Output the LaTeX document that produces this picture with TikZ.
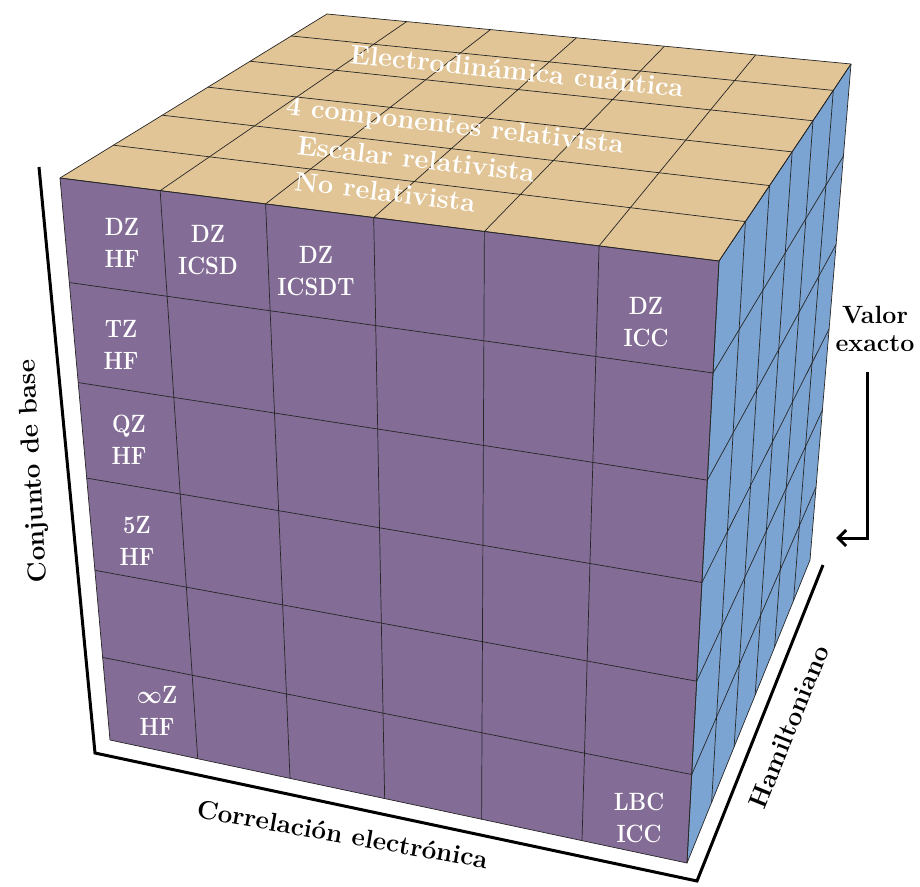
\documentclass[tikz,border=0pt]{standalone}
\usepackage{graphicx}
\usetikzlibrary{calc,arrows.meta}
\definecolor{purp}{RGB}{131,108,150}
\definecolor{tanc}{RGB}{226,197,150}
\definecolor{blu}{RGB}{123,164,210}
\newcommand{\cellpair}[2]{\scalebox{0.88}[1]{\bfseries #1}\\\scalebox{0.88}[1]{\bfseries #2}}
\tikzset{
  gridline/.style={draw=black!85, line width=0.7pt},
  axisline/.style={draw=black, line width=3pt, line join=miter},
  celltxt/.style={text=white, align=center, inner sep=0pt, font=\fontsize{25}{32}\selectfont\bfseries},
  toptxt/.style={text=white, anchor=base, inner sep=0pt, font=\fontsize{27}{30}\selectfont\bfseries},
  axtxt/.style={text=black, inner sep=0pt, font=\fontsize{26}{30}\selectfont\bfseries},
}
\begin{document}
\begin{tikzpicture}[x=1pt,y=-1pt]
\useasboundingbox (0,0) rectangle (920,886);
% cube vertices
\coordinate (FTL) at (60,178);
\coordinate (FTR) at (719,261);
\coordinate (FBR) at (687,863);
\coordinate (FBL) at (110,740);
\coordinate (BTL) at (327,14);
\coordinate (BTR) at (851,64);
\coordinate (BBR) at (810,560);
% faces
\fill[tanc] (FTL)--(FTR)--(BTR)--(BTL)--cycle;
\fill[purp] (FTL)--(FTR)--(FBR)--(FBL)--cycle;
\fill[blu] (FTR)--(BTR)--(BBR)--(FBR)--cycle;
% grids
\foreach \f in {0,0.152,0.312,0.476,0.644,0.818,1}{
  \draw[gridline] ($(FTL)!\f!(FTR)$) -- ($(FBL)!\f!(FBR)$);
  \draw[gridline] ($(FTL)!\f!(FTR)$) -- ($(BTL)!\f!(BTR)$);
}
\foreach \f in {0,0.186,0.364,0.534,0.698,0.853,1}{
  \draw[gridline] ($(FTL)!\f!(FBL)$) -- ($(FTR)!\f!(FBR)$);
  \draw[gridline] ($(FTR)!\f!(FBR)$) -- ($(BTR)!\f!(BBR)$);
}
\foreach \f in {0,0.2,0.383,0.554,0.712,0.866,1}{
  \draw[gridline] ($(FTL)!\f!(BTL)$) -- ($(FTR)!\f!(BTR)$);
  \draw[gridline] ($(FTR)!\f!(BTR)$) -- ($(FBR)!\f!(BBR)$);
}
% top face texts
\node[toptxt, rotate=-5.8] (t1) at (516,80) {Electrodinámica cuántica};
\node[toptxt, rotate=-6.6] (t2) at (454,134) {4 componentes relativista};
\node[toptxt, rotate=-6.7] (t3) at (415,168) {Escalar relativista};
\node[toptxt, rotate=-6.9] (t4) at (384,201) {No relativista};
% front cell texts
\node[celltxt] (c1) at (122,243) {\cellpair{DZ}{HF}};
\node[celltxt] (c2) at (208,250) {\cellpair{DZ}{ICSD}};
\node[celltxt] (c3) at (316,271) {\cellpair{DZ}{ICSDT}};
\node[celltxt] (c4) at (646,322) {\cellpair{DZ}{ICC}};
\node[celltxt] (c5) at (121,345) {\cellpair{TZ}{HF}};
\node[celltxt] (c6) at (129,440) {\cellpair{QZ}{HF}};
\node[celltxt] (c7) at (137,541) {\cellpair{5Z}{HF}};
\node[celltxt] (c8) at (157,711) {\cellpair{{\boldmath$\infty$}Z}{HF}};
\node[celltxt] (c9) at (639,818) {\cellpair{LBC}{ICC}};
% axes
\coordinate (A1) at (39,167);
\coordinate (A2) at (95,753);
\coordinate (A3) at (697,881);
\coordinate (A4) at (823,565);
\draw[axisline] (A1)--(A2)--(A3)--(A4);
\node[axtxt, rotate=93] (lbase) at (34,471) {Conjunto de base};
\node[axtxt, rotate=-10, anchor=base] (lcorr) at (341,843) {Correlación electrónica};
\node[axtxt, rotate=68] (lham) at (789,727) {Hamiltoniano};
% valor exacto
\node[axtxt, align=center, font=\fontsize{25}{28}\selectfont\bfseries] (valor) at (875,329) {Valor\\exacto};
\coordinate (V1) at (867,372);
\coordinate (V3) at (836,538);
\draw[line width=3pt, -{Straight Barb[length=8pt,width=16pt,line width=3pt]}] (V1) |- (V3);
\end{tikzpicture}
\end{document}
